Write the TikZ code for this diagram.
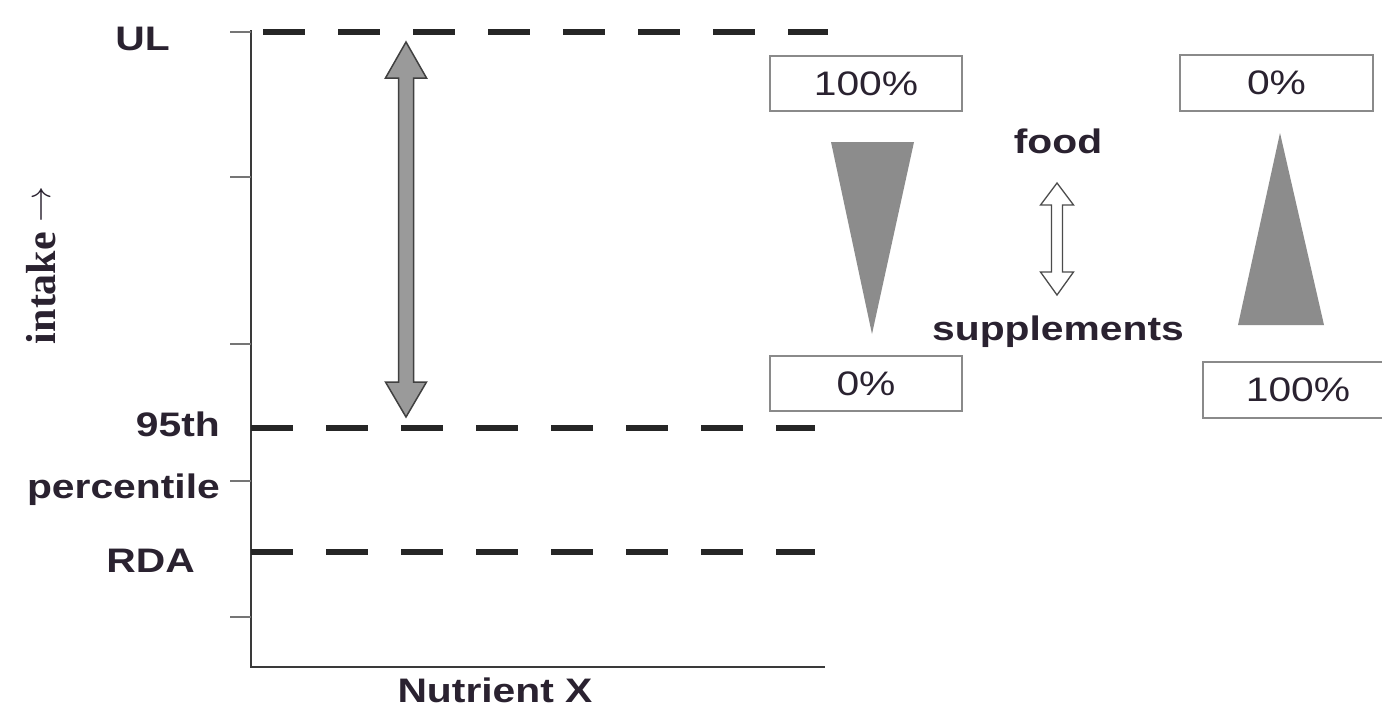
\documentclass[tikz,border=0pt]{standalone}
\usepackage{graphicx}
\usepackage{fontspec}
\setmainfont[FakeStretch=1.2]{Liberation Sans}
\newfontfamily\serifb{Liberation Serif}
\definecolor{txt}{HTML}{2A2230}
\definecolor{axisc}{HTML}{3A3A3A}
\definecolor{tri}{HTML}{8C8C8C}
\definecolor{boxc}{HTML}{8A8A8A}
\definecolor{arrfill}{HTML}{9A9A9A}
\begin{document}
\begin{tikzpicture}[x=1pt,y=-1pt,
  lbl/.style={font=\fontsize{34}{40}\selectfont\bfseries, text=txt, inner sep=0pt},
  pct/.style={draw=boxc, line width=2pt, inner sep=0pt, font=\fontsize{34}{40}\selectfont, text=txt},
  level/.style={line width=5.5pt, dash pattern=on 42pt off 33pt, color=black!85},
  axisline/.style={line width=2.5pt, color=axisc},
  tickline/.style={line width=1.5pt, color=axisc!70},
  triangle/.style={fill=tri},
  bigarrow/.style={draw=black!75, fill=arrfill, line width=1.5pt, line join=miter},
  hollowarrow/.style={draw=black!70, fill=white, line width=1.3pt, line join=miter}]
\useasboundingbox (0,0) rectangle (1382,710);
\fill[white] (0,0) rectangle (1382,710);

% axes
\coordinate (axtop) at (251,30);
\coordinate (orig) at (251,667);
\coordinate (xend) at (825,667);
\draw[axisline] (axtop) -- (orig) -- (xend);
\foreach \y in {32,177,344,481,617} \draw[tickline] (230,\y) -- (251,\y);

% level lines
\coordinate (ulA) at (263,32);  \coordinate (ulB) at (828,32);
\coordinate (p95A) at (251,428); \coordinate (p95B) at (815,428);
\coordinate (rdaA) at (251,552); \coordinate (rdaB) at (815,552);
\draw[level] (ulA) -- (ulB);
\draw[level] (p95A) -- (p95B);
\draw[level] (rdaA) -- (rdaB);

% labels
\node[lbl, anchor=base east] (ul) at (170,50) {UL};
\node[lbl, anchor=base east] (p95) at (220,436) {95th};
\node[lbl, anchor=base east] (pct) at (220,498) {percentile};
\node[lbl, anchor=base east] (rda) at (195,572) {RDA};
\node[lbl, anchor=base] (nx) at (495,702) {Nutrient X};
\node[font=\serifb\bfseries\fontsize{42}{46}\selectfont, text=txt, inner sep=0pt, rotate=90, anchor=base] (intake) at (55,265)
  {intake\hspace{10pt}\raisebox{5pt}{\resizebox{36pt}{!}{$\rightarrow$}}};

% gray double arrow
\draw[bigarrow] (406,42) -- (426.5,78) -- (413.5,78) -- (413.5,382) -- (426.5,382) -- (406,417)
  -- (385.5,382) -- (398.5,382) -- (398.5,78) -- (385.5,78) -- cycle;

% percentage boxes
\node[pct, minimum width=192pt, minimum height=55pt] (b1) at (866,83.5) {100\%};
\node[pct, minimum width=193pt, minimum height=56pt] (b2) at (1276.5,83) {0\%};
\node[pct, minimum width=192pt, minimum height=55pt] (b3) at (866,383.5) {0\%};
\node[pct, minimum width=190pt, minimum height=56pt] (b4) at (1298,390) {100\%};

% triangles
\fill[triangle] (831,142) -- (914,142) -- (872,334) -- cycle;
\fill[triangle] (1280,133) -- (1324,325) -- (1238,325) -- cycle;

% food / supplements
\node[lbl, anchor=base] (food) at (1058,153) {food};
\node[lbl, anchor=base] (supp) at (1058,340) {supplements};
\draw[hollowarrow] (1057,183) -- (1073.5,205) -- (1062.5,205) -- (1062.5,272) -- (1073.5,272) -- (1057,295)
  -- (1040.5,272) -- (1051.5,272) -- (1051.5,205) -- (1040.5,205) -- cycle;
\end{tikzpicture}
\end{document}
